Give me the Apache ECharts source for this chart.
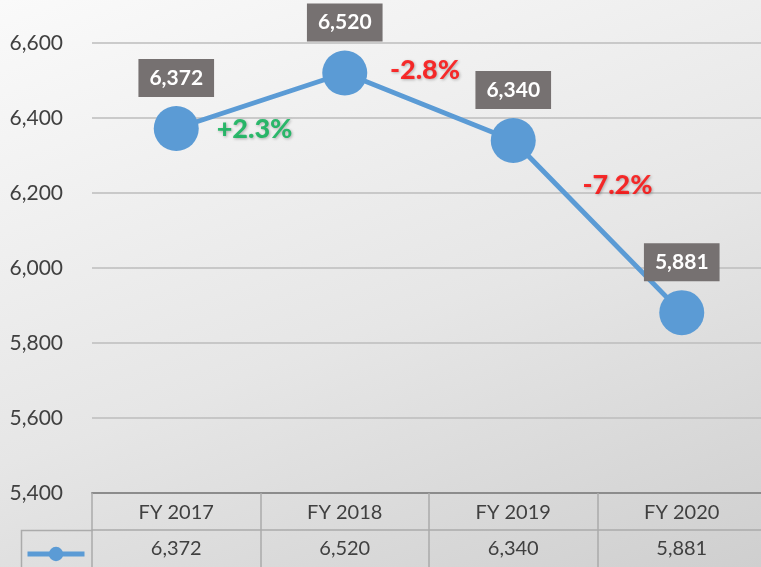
<!DOCTYPE html>
<html>
<head>
<meta charset="utf-8">
<script src="https://cdn.jsdelivr.net/npm/echarts@6/dist/echarts.min.js"></script>
<style>
  html, body { margin: 0; padding: 0; }
  #chart {
    width: 761px;
    height: 567px;
    background: linear-gradient(160deg, #fafafa 0%, #e6e6e6 55%, #cfcfcf 100%);
  }
</style>
</head>
<body>
<div id="chart"></div>
<script>
// data
const categories = ['FY 2017', 'FY 2018', 'FY 2019', 'FY 2020']
const values = [6372, 6520, 6340, 5881]
const seriesName = 'Revenue'
const yTicks = { min: 5400, max: 6600, interval: 200 }

const fmt = (v) => v.toLocaleString('en-US')

// year-over-year change, placed at the middle of each segment
const changeData = values.slice(1).map((v, i) => {
  const pct = (v - values[i]) / values[i] * 100
  return [i + 0.5, (v + values[i]) / 2, (pct >= 0 ? '+' : '') + pct.toFixed(1) + '%']
})
const changeOffsets = [[-6, 29], [-4, -36], [20, -41]]

const FONT = 'Lato, "Open Sans", sans-serif'
const BLUE = '#5B9BD5'
const TABLE_LINE = '#ababab'

const chart = echarts.init(document.getElementById('chart'))

const option = {
  backgroundColor: 'transparent',
  animation: false,
  textStyle: { fontFamily: FONT },
  grid: { left: 92, top: 43, width: 674, height: 450, outerBoundsMode: 'none', containLabel: false },
  legend: {
    data: [seriesName],
    left: 20,
    top: 540,
    itemWidth: 57,
    itemHeight: 18,
    lineStyle: { width: 5 },
    formatter: () => '',
    selectedMode: false
  },
  xAxis: [
    {
      type: 'category',
      data: categories,
      position: 'bottom',
      axisLine: { lineStyle: { color: '#8c8c8c', width: 2 } },
      axisTick: { show: true, length: 74, lineStyle: { color: TABLE_LINE, width: 1.5 } },
      axisLabel: { color: '#404040', fontSize: 20, fontFamily: FONT, margin: 10 },
      splitLine: { show: false }
    },
    {
      type: 'category',
      data: values.map(fmt),
      position: 'bottom',
      offset: 37,
      axisLine: { lineStyle: { color: TABLE_LINE, width: 1.5 } },
      axisTick: { show: false },
      axisLabel: { color: '#404040', fontSize: 20, fontFamily: FONT, margin: 9 }
    },
    {
      type: 'value',
      min: -0.5,
      max: 3.5,
      show: false
    }
  ],
  yAxis: {
    type: 'value',
    min: yTicks.min,
    max: yTicks.max,
    interval: yTicks.interval,
    axisLine: { show: false },
    axisTick: { show: false },
    axisLabel: {
      color: '#404040',
      fontSize: 21,
      fontFamily: FONT,
      margin: 29,
      formatter: (v) => fmt(v)
    },
    splitLine: { lineStyle: { color: '#bdbdbd', width: 1.5 } }
  },
  series: [
    {
      name: seriesName,
      type: 'line',
      xAxisIndex: 0,
      data: values,
      symbol: 'circle',
      symbolSize: 45,
      lineStyle: { color: BLUE, width: 5 },
      itemStyle: { color: BLUE },
      label: {
        show: true,
        position: 'top',
        distance: 9,
        formatter: (p) => fmt(p.value),
        color: '#ffffff',
        fontWeight: 'bold',
        fontSize: 21,
        fontFamily: FONT,
        lineHeight: 24,
        backgroundColor: '#767171',
        padding: [7, 11]
      },
      z: 3
    },
    {
      name: 'change',
      type: 'scatter',
      xAxisIndex: 2,
      symbolSize: 0,
      silent: true,
      data: changeData.map((d, i) => ({
        value: [d[0], d[1]],
        label: {
          formatter: d[2],
          offset: changeOffsets[i],
          color: d[2].startsWith('+') ? '#00B050' : '#FF0000'
        }
      })),
      label: {
        show: true,
        position: 'inside',
        fontWeight: 900,
        fontSize: 27,
        fontFamily: FONT,
        textShadowColor: 'rgba(0,0,0,0.35)',
        textShadowBlur: 3,
        textShadowOffsetX: 1,
        textShadowOffsetY: 1
      },
      z: 4
    }
  ],
  graphic: [
    {
      type: 'polyline',
      shape: { points: [[21.5, 567], [21.5, 530.5], [93, 530.5]] },
      style: { stroke: TABLE_LINE, lineWidth: 1.5, fill: null },
      silent: true
    }
  ]
}

chart.setOption(option)
</script>
</body>
</html>
